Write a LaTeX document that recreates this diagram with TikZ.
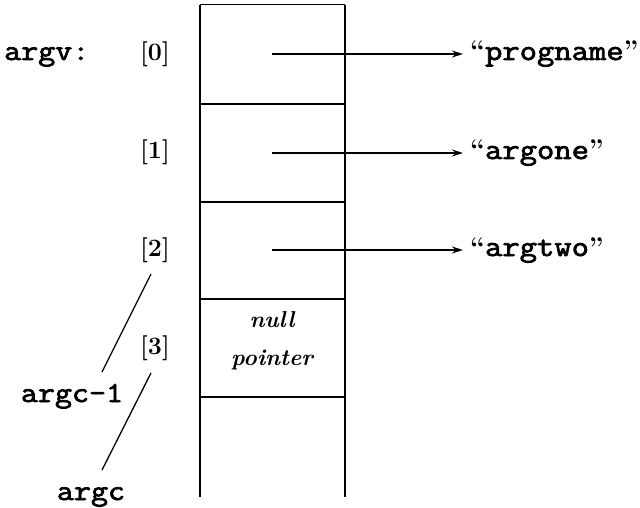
\documentclass[tikz,border=0pt]{standalone}
\usepackage{fontspec}
\setmonofont{Latin Modern Mono}[AutoFakeBold=2.5, FakeStretch=1.14]
\usetikzlibrary{arrows.meta}
\newcommand\strttfont{\fontsize{29.5}{31}\selectfont\ttfamily\bfseries}
\begin{document}
\begin{tikzpicture}[x=1pt,y=-1pt,
  box/.style={line width=1.8pt},
  tt/.style={font=\fontsize{29}{31}\selectfont\ttfamily\bfseries, inner sep=0pt},
  idx/.style={font=\fontsize{25}{27}\selectfont\bfseries, inner sep=0pt},
  str/.style={font=\fontsize{27}{29}\selectfont\bfseries, inner sep=0pt, anchor=base west},
  ptr/.style={line width=1.3pt, -{Stealth[length=11pt,width=7pt]}, shorten >=7pt},
  lead/.style={line width=1.3pt}]
\useasboundingbox (0,0) rectangle (640,508);
% cells
\coordinate (tl) at (200,5);
\coordinate (tr) at (345,5);
\coordinate (bl) at (200,497);
\coordinate (br) at (345,497);
\draw[box] (bl) -- (tl);
\draw[box] (br) -- (tr);
\draw[line width=1pt] (tl) -- (tr);
\foreach \yy in {104,202,299,397}{\draw[box] (200,\yy) -- (345,\yy);}
% labels
\node[tt, anchor=base west] (argv) at (4,60) {argv:};
\node[idx] (i0) at (155,54) {[0]};
\node[idx] (i1) at (155,152) {[1]};
\node[idx] (i2) at (155,250) {[2]};
\node[idx] (i3) at (155,348) {[3]};
\node[tt, anchor=base] (ac1) at (72,402) {argc-1};
\node[tt, anchor=base] (ac) at (91,500) {argc};
% strings
\node[str] (s0) at (470,60) {``{\strttfont progname}''};
\node[str] (s1) at (470,159) {``{\strttfont argone}''};
\node[str] (s2) at (470,256) {``{\strttfont argtwo}''};
% pointers
\coordinate (c0) at (272,54);
\coordinate (c1) at (272,153);
\coordinate (c2) at (272,250);
\draw[ptr] (c0) -- (c0 -| s0.west);
\draw[ptr] (c1) -- (c1 -| s1.west);
\draw[ptr] (c2) -- (c2 -| s2.west);
% null pointer
\node[font=\fontsize{23}{38}\selectfont\itshape\bfseries, align=center] (np) at (272,341) {null\\pointer};
% leaders
\coordinate (l1a) at (151,274);
\coordinate (l1b) at (102,372);
\coordinate (l2a) at (151,373);
\coordinate (l2b) at (102,470);
\draw[lead] (l1a) -- (l1b);
\draw[lead] (l2a) -- (l2b);
\end{tikzpicture}
\end{document}
